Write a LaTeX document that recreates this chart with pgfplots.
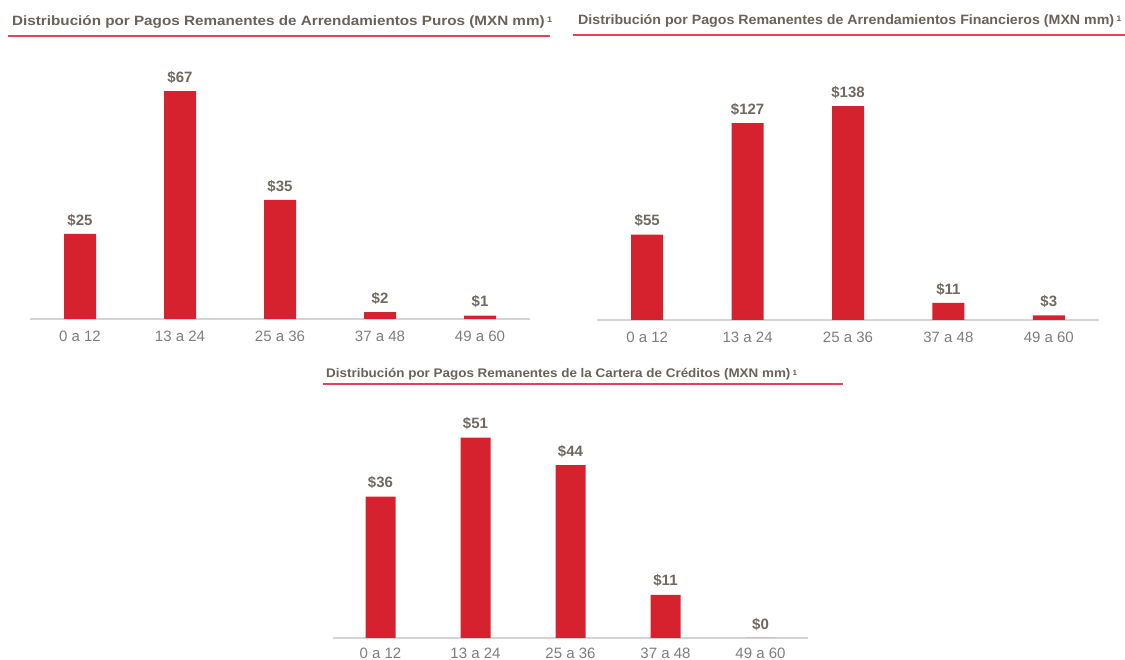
\documentclass[border=0pt]{standalone}
\usepackage{fontspec}
\setmainfont{Liberation Sans}
\usepackage{graphicx}
\usepackage{pgfplots}
\pgfplotsset{compat=1.18}
\definecolor{barred}{RGB}{214,34,46}
\definecolor{titlegray}{RGB}{105,97,90}
\definecolor{valgray}{RGB}{112,104,97}
\definecolor{tickgray}{RGB}{125,125,125}
\definecolor{axisgray}{RGB}{212,212,212}
\definecolor{uline}{RGB}{226,68,82}
\pgfplotsset{
  mybars/.style={
    scale only axis,
    ybar,
    ymin=0,
    xmin=-0.5, xmax=4.5,
    axis x line=bottom,
    axis y line=none,
    x axis line style={draw=axisgray, line width=1.3pt, -},
    xtick={0,1,2,3,4},
    xticklabels={0 a 12, 13 a 24, 25 a 36, 37 a 48, 49 a 60},
    major tick length=0pt,
    ytick=\empty,
    xticklabel style={font=\fontsize{15}{17}\selectfont, text=tickgray, inner sep=0pt, yshift=-12pt},
    /pgf/number format/assume math mode=true,
    nodes near coords={\$\pgfmathprintnumber{\pgfplotspointmeta}},
    every node near coord/.append style={font=\fontsize{15}{17}\selectfont\bfseries, text=valgray, inner sep=0pt, anchor=south, yshift=7.5pt},
  }
}
\newcommand{\ttl}[2]{\resizebox{#1}{\height}{\fontsize{13.5}{16}\selectfont\bfseries\color{titlegray}#2\,\raisebox{0.45ex}{\fontsize{8}{9}\selectfont 1}}}
\begin{document}
\begin{tikzpicture}[x=1pt,y=1pt]
\path[use as bounding box] (0,0) rectangle (1125,660);
% titles
\node[anchor=base west, inner sep=0pt] at (12,634.5) {\ttl{540pt}{Distribución por Pagos Remanentes de Arrendamientos Puros (MXN mm)}};
\draw[uline, line width=2pt] (8,624) -- (550,624);
\node[anchor=base west, inner sep=0pt] at (578,635) {\ttl{543pt}{Distribución por Pagos Remanentes de Arrendamientos Financieros (MXN mm)}};
\draw[uline, line width=2pt] (573,625) -- (1125,625);
\node[anchor=base west, inner sep=0pt] at (326,282) {\resizebox{471pt}{\height}{\fontsize{12.5}{15}\selectfont\bfseries\color{titlegray}Distribución por Pagos Remanentes de la Cartera de Créditos (MXN mm)\,\raisebox{0.45ex}{\fontsize{7.5}{9}\selectfont 1}}};
\draw[uline, line width=2pt] (323,276) -- (843,276);

\begin{axis}[mybars, at={(30pt,341pt)}, anchor=south west, width=500pt, height=238pt, ymax=70, bar width=32pt]
\addplot[fill=barred, draw=none] coordinates {(0,25) (1,67) (2,35) (3,2) (4,1)};
\end{axis}

\begin{axis}[mybars, at={(597pt,340pt)}, anchor=south west, width=502pt, height=232.5pt, ymax=150, bar width=32pt]
\addplot[fill=barred, draw=none] coordinates {(0,55) (1,127) (2,138) (3,11) (4,3)};
\end{axis}

\begin{axis}[mybars, at={(333pt,22pt)}, anchor=south west, width=475pt, height=216pt, ymax=55, bar width=30pt,
  xticklabel style={yshift=2pt}]
\addplot[fill=barred, draw=none] coordinates {(0,36) (1,51) (2,44) (3,11) (4,0)};
\end{axis}
\end{tikzpicture}
\end{document}
